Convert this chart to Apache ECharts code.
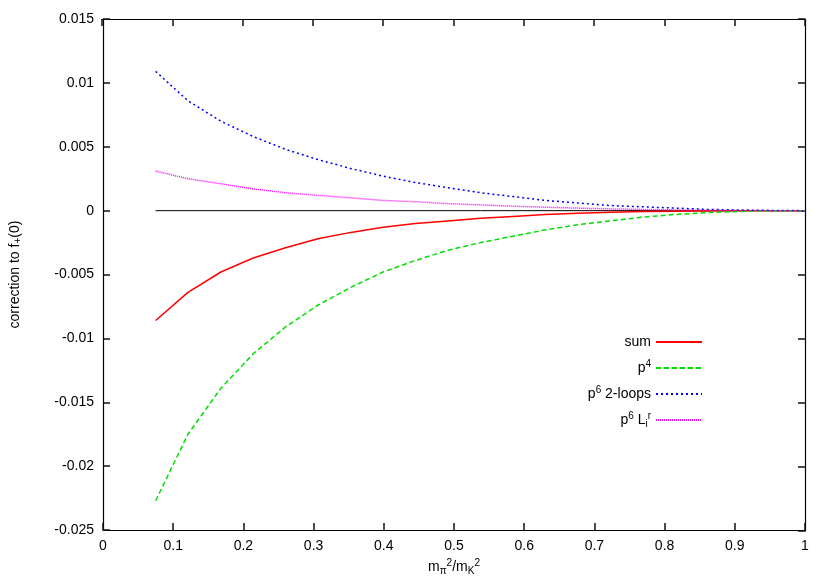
<!DOCTYPE html>
<html><head><meta charset="utf-8">
<script src="https://cdn.jsdelivr.net/npm/echarts@6/dist/echarts.min.js"></script>
<style>html,body{margin:0;padding:0;background:#fff}#c{width:830px;height:581px}</style>
</head><body><div id="c"></div>
<script>
const xValues = [0.075,0.121,0.168,0.214,0.26,0.306,0.353,0.399,0.445,0.491,0.538,0.584,0.63,0.676,0.723,0.769,0.815,0.861,0.908,0.954,1.0];
const sumValues = [-0.0086,-0.0064,-0.0048,-0.0037,-0.0029,-0.0022,-0.0017,-0.0013,-0.0010,-0.0008,-0.0006,-0.00045,-0.0003,-0.0002,-0.00012,-0.00007,-0.00004,-0.00002,-0.00001,0,0];
const p4Values = [-0.0227,-0.0175,-0.0139,-0.0112,-0.0091,-0.0074,-0.0060,-0.0048,-0.0039,-0.0031,-0.0025,-0.0020,-0.0015,-0.0011,-0.0008,-0.0005,-0.0003,-0.00015,-0.00006,-0.00001,0];
const loopValues = [0.0109,0.0086,0.0070,0.0058,0.0048,0.0040,0.0033,0.0027,0.0022,0.0018,0.0014,0.0011,0.0008,0.0006,0.0004,0.0003,0.0002,0.0001,0.00005,0.00002,0];
const lrValues = [0.0031,0.0025,0.0021,0.0017,0.0014,0.0012,0.0010,0.0008,0.0007,0.00055,0.00045,0.00035,0.00027,0.0002,0.00014,0.0001,0.00006,0.00003,0.00001,0,0];
const zeroLine = [[0.075,0],[1,0]];
const seriesNames = ['sum','p4','p6 2-loops','p6 Lr'];

const pair = (ys) => xValues.map((x,i)=>[x,ys[i]]);
const font = 'Liberation Sans, Arial, sans-serif';
const rich = {
  t:{fontSize:14,fontFamily:font,color:'#000'},
  sup:{fontSize:10,fontFamily:font,color:'#000',verticalAlign:'top',padding:[0,0,8,0]},
  sub:{fontSize:10,fontFamily:font,color:'#000',verticalAlign:'bottom',padding:[6,0,0,0]}
};
const legendLabel = {
  'sum':'{t|sum}',
  'p4':'{t|p}{sup|4}',
  'p6 2-loops':'{t|p}{sup|6}{t| 2-loops}',
  'p6 Lr':'{t|p}{sup|6}{t| L}{sub|i}{sup|r}'
};
const chart = echarts.init(document.getElementById('c'));
const mkLine = () => ({show:true,onZero:false,lineStyle:{color:'#000',width:1.2}});
const mkTick = () => ({show:true,inside:true,length:7,lineStyle:{color:'#111',width:1.5}});
const gridBox = {left:102,right:25,top:19,bottom:50};
chart.setOption({
  animation:false,
  backgroundColor:'#fff',
  grid:[Object.assign({},gridBox),Object.assign({},gridBox)],
  legend:{
    orient:'vertical', right:122, top:330, align:'right',
    itemWidth:46, itemHeight:14, itemGap:10,
    data:seriesNames,
    itemStyle:{opacity:0},
    formatter:(n)=>legendLabel[n],
    textStyle:{width:110,align:'right',rich:rich,fontFamily:font,fontSize:14}
  },
  xAxis:[{
    gridIndex:0,type:'value',min:0,max:1,interval:0.1,
    name:'{t|m}{sub|π}{sup|2}{t|/m}{sub|K}{sup|2}',
    nameLocation:'middle',nameGap:27,
    nameTextStyle:{rich:rich},
    axisLine:mkLine(), axisTick:mkTick(),
    axisLabel:{color:'#000',fontSize:14,fontFamily:font,margin:9,formatter:(v)=>String(parseFloat(v.toFixed(2)))},
    splitLine:{show:false}
  },{
    gridIndex:1,type:'value',min:0,max:1,interval:0.1,position:'top',
    axisLine:mkLine(), axisTick:mkTick(),
    axisLabel:{show:false},splitLine:{show:false}
  }],
  yAxis:[{
    gridIndex:0,type:'value',min:-0.025,max:0.015,interval:0.005,
    name:'{t|correction to f}{sub|+}{t|(0)}',
    nameLocation:'middle',nameGap:80,nameRotate:90,
    nameTextStyle:{rich:rich},
    axisLine:mkLine(), axisTick:mkTick(),
    axisLabel:{color:'#000',fontSize:14,fontFamily:font,margin:9,formatter:(v)=>String(parseFloat(v.toFixed(4)))},
    splitLine:{show:false}
  },{
    gridIndex:1,type:'value',min:-0.025,max:0.015,interval:0.005,position:'right',
    axisLine:mkLine(), axisTick:mkTick(),
    axisLabel:{show:false},splitLine:{show:false}
  }],
  series:[
    {type:'line',name:'zero',data:zeroLine,symbol:'none',lineStyle:{color:'#000',width:1},itemStyle:{color:'#000'},z:1,silent:true},
    {type:'line',name:'sum',data:pair(sumValues),symbol:'none',lineStyle:{color:'#ff0000',width:1.5},itemStyle:{color:'#ff0000'}},
    {type:'line',name:'p4',data:pair(p4Values),symbol:'none',lineStyle:{color:'#00e000',width:1.5,type:[5,3]},itemStyle:{color:'#00e000'}},
    {type:'line',name:'p6 2-loops',data:pair(loopValues),symbol:'none',lineStyle:{color:'#0000ff',width:1.5,type:[2,3]},itemStyle:{color:'#0000ff'}},
    {type:'line',name:'p6 Lr',data:pair(lrValues),symbol:'none',lineStyle:{color:'#ff00ff',width:1.5,type:[1,1]},itemStyle:{color:'#ff00ff'}}
  ]
});
</script></body></html>
